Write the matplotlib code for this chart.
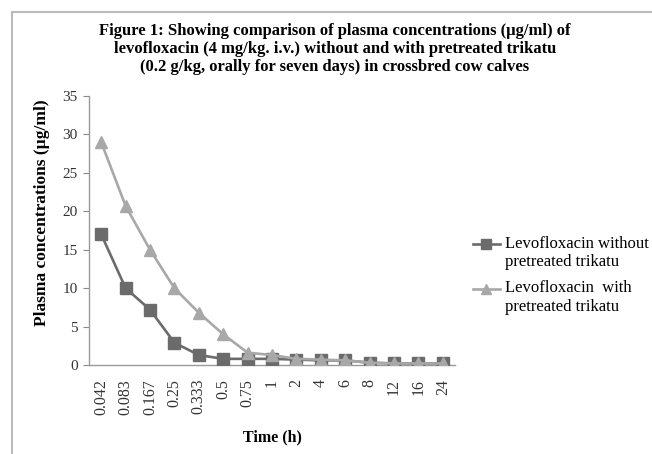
import matplotlib
matplotlib.use("Agg")
import matplotlib.pyplot as plt
from matplotlib.lines import Line2D
from matplotlib.legend_handler import HandlerLine2D

categories = ["0.042", "0.083", "0.167", "0.25", "0.333", "0.5", "0.75",
              "1", "2", "4", "6", "8", "12", "16", "24"]
without_trikatu = [17, 10, 7.2, 2.9, 1.3, 0.8, 0.8, 0.8, 0.7, 0.6, 0.6, 0.3, 0.2, 0.2, 0.2]
with_trikatu = [29, 20.7, 15, 10, 6.8, 4.0, 1.6, 1.3, 0.8, 0.7, 0.6, 0.3, 0.2, 0.2, 0.2]
y_ticks = [0, 5, 10, 15, 20, 25, 30, 35]

plt.rcParams['font.family'] = ['Liberation Serif', 'DejaVu Serif']


class TopHandler(HandlerLine2D):
    """Place the legend handle at the first text line of a two-line label."""
    def create_artists(self, legend, orig_handle, xdescent, ydescent,
                       width, height, fontsize, trans):
        shift = 6.5
        return super().create_artists(legend, orig_handle, xdescent, ydescent,
                                      width, height + 2 * shift, fontsize, trans)


W, H = 652, 454
fig = plt.figure(figsize=(W/100, H/100), dpi=100)
ax = fig.add_axes([89/W, 1-365/H, (455-89)/W, (365-96)/H])

dark = "#6b6b6b"
light = "#a8a8a8"
x = list(range(len(categories)))
l1, = ax.plot(x, without_trikatu, color=dark, lw=1.9, marker='s', ms=8.5, zorder=3,
              label="Levofloxacin without\npretreated trikatu")
l2, = ax.plot(x, with_trikatu, color=light, lw=1.9, marker='^', ms=8.5, zorder=3,
              label="Levofloxacin  with\npretreated trikatu")

ax.set_xlim(-0.5, len(categories) - 0.5)
ax.set_ylim(0, 35)
ax.set_yticks(y_ticks)
ax.set_xticks(x)
ax.set_xticklabels(categories, rotation=90, fontsize=11.5, color="#333333")
ax.tick_params(axis='y', labelsize=11, length=4, color="#888888", labelcolor="#333333", pad=4)
ax.tick_params(axis='x', length=0, pad=10)
for s in ['top', 'right']:
    ax.spines[s].set_visible(False)
for s in ['left', 'bottom']:
    ax.spines[s].set_color("#999999")
    ax.spines[s].set_linewidth(1.0)

ax.set_ylabel("Plasma concentrations (µg/ml)", fontsize=12.5, fontweight='bold')
ax.yaxis.set_label_coords((42-89)/(455-89), (365-213)/(365-96))
ax.set_xlabel("Time (h)", fontsize=11.5, fontweight='bold')
ax.xaxis.set_label_coords(0.5, (365-437)/(365-96))
ax.xaxis.label.set_va('center')
ax.yaxis.label.set_va('center')

fig.text(335/W, 1-49/H,
         "Figure 1: Showing comparison of plasma concentrations (µg/ml) of\n"
         "levofloxacin (4 mg/kg. i.v.) without and with pretreated trikatu\n"
         "(0.2 g/kg, orally for seven days) in crossbred cow calves",
         ha='center', va='center', fontsize=12, fontweight='bold', linespacing=1.16)

leg = ax.legend(handler_map={l1: TopHandler(), l2: TopHandler()},
                loc='upper left', bbox_to_anchor=(473/W, 1-236/H),
                bbox_transform=fig.transFigure, frameon=False, borderpad=0,
                borderaxespad=0, fontsize=12, handlelength=1.6, handletextpad=0.3,
                labelspacing=0.6, markerscale=0.8)

# frame lines at left and top
fig.add_artist(Line2D([12/W, 12/W], [0, 1-12/H], color="#bbbbbb", lw=1.5))
fig.add_artist(Line2D([12/W, 1], [1-12/H, 1-12/H], color="#bbbbbb", lw=1.5))

fig.savefig("out.png", dpi=100)
